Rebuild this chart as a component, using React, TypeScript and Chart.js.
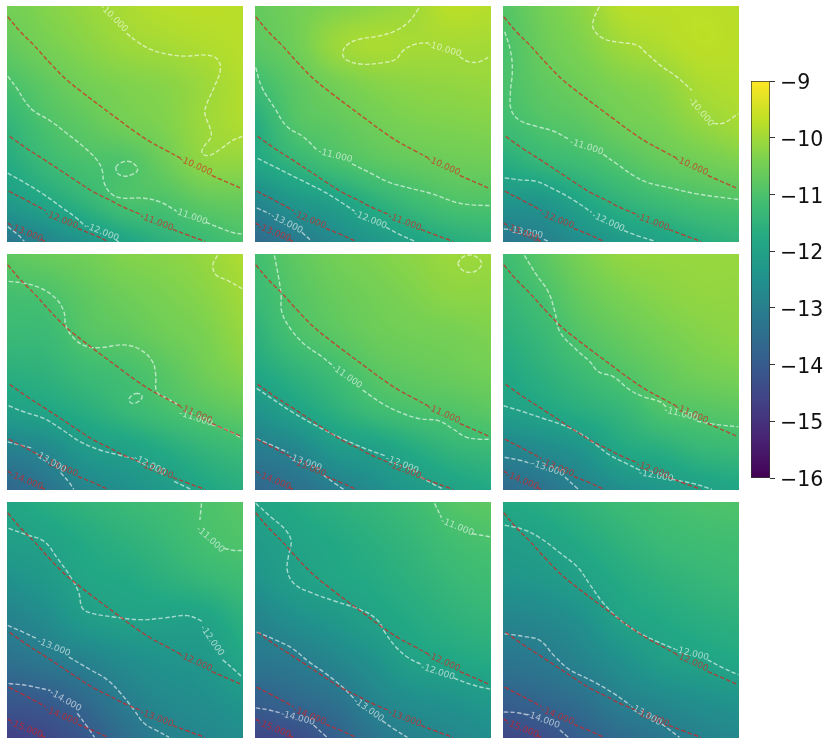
import React, { useEffect, useRef } from "react";
import { Chart, registerables } from "chart.js";

Chart.register(...registerables);

type Seg = number[][];
type Lab = [number, number, number, string];

const VIRIDIS = ["#440154", "#482475", "#414487", "#355f8d", "#2a788e", "#21918c", "#22a884", "#44bf70", "#7ad151", "#bddf26", "#fde725"];
const V_MIN = -16;
const V_MAX = -9;
const CB_TICKS = ["\u22129", "\u221210", "\u221211", "\u221212", "\u221213", "\u221214", "\u221215", "\u221216"];

// domain of each panel and the sample positions of the field
const X_RANGE = [20, 726];
const Y_RANGE = [18, 724];
const GRID_X = [20, 138, 255, 373, 491, 608, 726];
const GRID_Y = [18, 136, 253, 371, 489, 606, 724];

const HEAT_1 = [
  -10.5, -10.3, -10.1, -9.9, -9.75, -9.72, -9.75,
  -10.7, -10.45, -10.25, -10.05, -9.95, -9.85, -9.75,
  -11.05, -10.75, -10.5, -10.35, -10.25, -10.05, -9.8,
  -11.45, -11.0, -10.75, -10.5, -10.35, -10.05, -9.85,
  -11.75, -11.3, -11.05, -10.98, -10.6, -10.2, -10.15,
  -12.25, -11.85, -11.45, -11.05, -11.0, -10.75, -10.65,
  -13.25, -12.85, -12.4, -11.95, -11.55, -11.3, -11.05,
];
const HEAT_2 = [
  -10.7, -10.5, -10.35, -10.2, -10.02, -9.72, -9.78,
  -10.8, -10.55, -10.08, -9.9, -9.95, -9.95, -9.95,
  -11.2, -10.8, -10.5, -10.3, -10.2, -10.15, -10.1,
  -11.7, -10.95, -10.75, -10.55, -10.4, -10.35, -10.3,
  -11.9, -11.45, -11.1, -10.85, -10.7, -10.6, -10.55,
  -12.85, -12.35, -12.05, -11.6, -11.25, -11.0, -10.95,
  -13.6, -13.2, -12.75, -12.35, -11.98, -11.7, -11.5,
];
const HEAT_3 = [
  -10.9, -10.5, -10.2, -9.75, -9.72, -9.72, -9.75,
  -11.05, -10.6, -10.35, -10.02, -9.85, -9.72, -9.75,
  -11.05, -10.75, -10.55, -10.35, -10.2, -9.9, -9.8,
  -11.2, -10.95, -10.8, -10.55, -10.4, -10.15, -9.95,
  -11.7, -11.4, -11.2, -10.95, -10.7, -10.55, -10.4,
  -12.4, -12.35, -11.9, -11.5, -11.25, -11.05, -10.95,
  -13.25, -13.0, -12.6, -12.25, -12.0, -11.7, -11.5,
];
const HEAT_4 = [
  -10.75, -10.6, -10.5, -10.3, -10.25, -10.1, -9.85,
  -11.1, -11.0, -10.75, -10.55, -10.4, -10.25, -9.98,
  -11.3, -11.25, -10.9, -10.75, -10.55, -10.4, -10.1,
  -11.6, -11.5, -11.25, -11.1, -10.85, -10.55, -10.3,
  -12.1, -11.9, -11.65, -11.35, -11.1, -10.9, -10.7,
  -13.0, -12.75, -12.25, -12.05, -11.75, -11.45, -11.25,
  -13.7, -13.35, -12.85, -12.55, -12.25, -11.9, -11.65,
];
const HEAT_5 = [
  -11.15, -10.75, -10.5, -10.35, -10.2, -10.05, -10.05,
  -11.3, -10.9, -10.65, -10.5, -10.35, -10.2, -10.2,
  -11.55, -11.05, -10.8, -10.6, -10.5, -10.45, -10.35,
  -11.85, -11.5, -11.2, -10.85, -10.7, -10.6, -10.5,
  -12.45, -12.0, -11.6, -11.25, -11.05, -10.95, -10.8,
  -13.1, -12.85, -12.3, -12.1, -11.75, -11.45, -11.3,
  -13.7, -13.45, -13.1, -12.65, -12.3, -12.05, -11.8,
];
const HEAT_6 = [
  -11.2, -10.8, -10.4, -10.15, -10.1, -10.1, -10.1,
  -11.4, -11.05, -10.65, -10.4, -10.25, -10.15, -10.15,
  -11.6, -11.3, -10.9, -10.65, -10.45, -10.3, -10.2,
  -11.85, -11.55, -11.25, -10.95, -10.7, -10.5, -10.4,
  -12.1, -11.9, -11.65, -11.4, -11.0, -10.9, -10.8,
  -12.9, -12.7, -12.4, -11.85, -11.65, -11.4, -11.3,
  -13.6, -13.35, -12.95, -12.6, -12.35, -12.1, -11.9,
];
const HEAT_7 = [
  -11.9, -11.65, -11.45, -11.3, -11.15, -11.0, -10.85,
  -12.1, -12.0, -11.75, -11.55, -11.35, -11.1, -10.95,
  -12.5, -12.25, -11.9, -11.8, -11.6, -11.4, -11.2,
  -12.95, -12.65, -12.2, -12.03, -12.03, -11.98, -11.55,
  -13.4, -13.15, -12.9, -12.6, -12.4, -12.3, -11.85,
  -14.05, -13.95, -13.55, -13.05, -12.7, -12.55, -12.3,
  -14.7, -14.5, -14.1, -13.5, -13.0, -12.8, -12.6,
];
const HEAT_8 = [
  -11.98, -11.75, -11.55, -11.4, -11.2, -10.9, -10.75,
  -12.2, -11.97, -11.8, -11.6, -11.4, -11.15, -11.02,
  -12.45, -12.1, -11.9, -11.75, -11.55, -11.35, -11.2,
  -12.9, -12.55, -12.3, -12.0, -11.75, -11.55, -11.4,
  -13.2, -13.1, -12.8, -12.45, -12.0, -11.85, -11.7,
  -13.85, -13.6, -13.35, -12.85, -12.55, -12.4, -12.2,
  -14.55, -14.4, -13.9, -13.3, -12.95, -12.8, -12.6,
];
const HEAT_9 = [
  -11.8, -11.65, -11.45, -11.25, -11.1, -11.0, -10.95,
  -12.15, -12.0, -11.75, -11.5, -11.3, -11.2, -11.15,
  -12.4, -12.3, -12.05, -11.75, -11.55, -11.4, -11.3,
  -12.85, -12.75, -12.5, -12.0, -11.8, -11.65, -11.55,
  -13.25, -13.15, -12.85, -12.5, -12.1, -11.95, -11.8,
  -13.85, -13.65, -13.4, -12.95, -12.7, -12.5, -12.35,
  -14.55, -14.35, -13.9, -13.55, -13.25, -12.95, -12.75,
];

// reference contours, identical in all panels
const RED_1: Seg = [[22, 50, 60, 95, 100, 135, 150, 190, 200, 240, 250, 280, 300, 318, 350, 355, 400, 392, 450, 425, 500, 452, 540, 474], [632, 525, 660, 537, 724, 565]];
const RED_2: Seg = [[28, 408, 80, 445, 130, 477, 180, 510, 230, 543, 280, 575, 330, 600, 380, 625, 425, 643], [516, 686, 560, 703, 612, 722]];
const RED_3: Seg = [[25, 572, 70, 595, 135, 630], [232, 683, 280, 703, 322, 722]];
const RED_4: Seg = [[22, 668, 32, 673], [122, 716, 133, 722]];
const RED_LINES = [RED_1, RED_2, RED_3, RED_4];
const RED_LABEL_POS = [[585, 497, 24], [468, 665, 21], [183, 658, 22], [78, 697, 22]];
const RED_LEVELS = [
  ["-10.000", "-11.000", "-12.000", "-13.000"],
  ["-11.000", "-12.000", "-13.000", "-14.000"],
  ["-12.000", "-13.000", "-14.000", "-15.000"],
];

const WHITE_1: Seg[] = [
  [[378, 100, 410, 125, 450, 148, 500, 162, 550, 168, 620, 165, 650, 178, 658, 210, 640, 260, 618, 310, 612, 340, 628, 385, 630, 410, 605, 445, 605, 460, 625, 465, 660, 445, 695, 420, 724, 408]],
  [[345, 500, 360, 487, 385, 483, 405, 495, 410, 510, 395, 522, 370, 527, 350, 518, 345, 500]],
  [[22, 228, 50, 265, 75, 305, 100, 332, 150, 362, 200, 400, 250, 440, 290, 480, 305, 510, 310, 545, 330, 578, 360, 592, 430, 593, 480, 605, 525, 630], [615, 665, 660, 683, 700, 697, 724, 700]],
  [[22, 518, 70, 545, 130, 582, 190, 625, 225, 650, 255, 678], [345, 718, 355, 724]],
  [[22, 678, 50, 700, 72, 722]],
];
const WHITE_LABELS_1: Lab[] = [[340, 55, 45, "-10.000"], [570, 648, 20, "-11.000"], [305, 695, 22, "-12.000"]];

const WHITE_2: Seg[] = [
  [[510, 25, 480, 65, 440, 92, 390, 108, 330, 118, 295, 135, 282, 160, 295, 180, 340, 192, 400, 188, 440, 178, 465, 150, 500, 132, 540, 128], [632, 170, 660, 185, 690, 185, 724, 168]],
  [[22, 202, 40, 260, 80, 325, 115, 378, 165, 410, 205, 448], [310, 490, 370, 520, 420, 545, 480, 562, 550, 580, 620, 605, 670, 613, 724, 615]],
  [[28, 474, 80, 500, 150, 535, 220, 570, 270, 600, 318, 632], [412, 680, 460, 705, 498, 722]],
  [[25, 622, 65, 640], [160, 695, 190, 722]],
];
const WHITE_LABELS_2: Lab[] = [[587, 148, 17, "-10.000"], [260, 466, 14, "-11.000"], [365, 658, 22, "-12.000"], [115, 668, 27, "-13.000"]];

const WHITE_3: Seg[] = [
  [[308, 20, 292, 55, 290, 85, 320, 115, 370, 127, 420, 135, 450, 160, 490, 195, 540, 230, 585, 270], [650, 370, 680, 368, 724, 340]],
  [[25, 95, 42, 150, 48, 210, 42, 280, 45, 330, 70, 360, 120, 378, 170, 392, 220, 418], [320, 462, 360, 490, 410, 525, 450, 545, 520, 562, 600, 580, 724, 597]],
  [[25, 532, 70, 538, 120, 543, 170, 565, 230, 598, 285, 635], [382, 690, 430, 708, 476, 722]],
  [[22, 685, 35, 686], [142, 716, 155, 722]],
];
const WHITE_LABELS_3: Lab[] = [[612, 335, 50, "-10.000"], [270, 440, 18, "-11.000"], [335, 665, 25, "-12.000"], [88, 696, 10, "-13.000"]];

const WHITE_4: Seg[] = [
  [[650, 22, 636, 50, 645, 80, 680, 97, 724, 122]],
  [[25, 100, 70, 105, 120, 120, 165, 150, 190, 190, 197, 235, 225, 275, 260, 295, 300, 298, 370, 290, 420, 305, 455, 340, 465, 380, 468, 430, 500, 450, 530, 468], [632, 528, 680, 545, 724, 570]],
  [[405, 435, 420, 437, 424, 447, 412, 460, 395, 465, 385, 455, 392, 442, 405, 435]],
  [[25, 472, 70, 490, 130, 510, 180, 540, 240, 580, 300, 605, 350, 618, 400, 630], [520, 698, 570, 722]],
  [[22, 580, 60, 590, 100, 600], [180, 672, 205, 700, 220, 722]],
];
const WHITE_LABELS_4: Lab[] = [[585, 510, 18, "-11.000"], [447, 650, 27, "-12.000"], [150, 640, 30, "-13.000"]];

const WHITE_5: Seg[] = [
  [[626, 47, 640, 28, 662, 21, 685, 28, 698, 47, 685, 66, 662, 73, 640, 66, 626, 47]],
  [[78, 22, 90, 85, 98, 140, 100, 190, 125, 240, 170, 290, 220, 325, 250, 350], [342, 425, 400, 465, 450, 490, 510, 510, 570, 517, 610, 540, 650, 565, 690, 572, 724, 572]],
  [[25, 420, 70, 450, 130, 490, 200, 530, 280, 570, 350, 600, 410, 622], [515, 685, 560, 710, 585, 722]],
  [[25, 570, 70, 590, 120, 612], [225, 680, 260, 705, 285, 722]],
];
const WHITE_LABELS_5: Lab[] = [[295, 385, 35, "-11.000"], [460, 648, 22, "-12.000"], [170, 642, 20, "-13.000"]];

const WHITE_6: Seg[] = [
  [[84, 22, 120, 80, 155, 130, 175, 190, 190, 250, 240, 305, 280, 340, 305, 370, 350, 385, 400, 425, 440, 445, 490, 460, 508, 475], [600, 518, 650, 527, 724, 535]],
  [[22, 472, 80, 490, 140, 510, 200, 530, 260, 560, 300, 590, 340, 620, 390, 645, 430, 665], [525, 692, 590, 705, 645, 722]],
  [[25, 626, 70, 635, 105, 645], [205, 685, 245, 722]],
];
const WHITE_LABELS_6: Lab[] = [[553, 497, 14, "-11.000"], [478, 682, 10, "-12.000"], [155, 660, 18, "-13.000"]];

const WHITE_7: Seg[] = [
  [[602, 22, 597, 72], [670, 157, 700, 163, 724, 163]],
  [[25, 97, 75, 115, 130, 135, 170, 185, 215, 250, 235, 290, 245, 335, 270, 350, 340, 362, 420, 370, 490, 365, 560, 358, 605, 375], [665, 490, 700, 520, 724, 542]],
  [[22, 387, 70, 408, 112, 428], [205, 482, 270, 520, 320, 550, 360, 590, 400, 640, 430, 680, 470, 703, 505, 722]],
  [[25, 561, 80, 567, 150, 582], [230, 650, 260, 690, 282, 722]],
];
const WHITE_LABELS_7: Lab[] = [[628, 130, 42, "-11.000"], [633, 433, 55, "-12.000"], [160, 453, 22, "-13.000"], [195, 612, 30, "-14.000"]];

const WHITE_8: Seg[] = [
  [[557, 22, 578, 65], [670, 113, 724, 122]],
  [[22, 22, 70, 65, 110, 100, 128, 135, 120, 180, 117, 225, 140, 265, 190, 290, 260, 315, 340, 342, 385, 370, 410, 410, 440, 450, 480, 485, 520, 505], [615, 545, 670, 565, 724, 578]],
  [[25, 407, 80, 430, 130, 455, 180, 495, 230, 530, 280, 570, 318, 607], [400, 672, 440, 700, 476, 722]],
  [[22, 634, 60, 640, 100, 650], [195, 685, 235, 722]],
];
const WHITE_LABELS_8: Lab[] = [[625, 93, 22, "-11.000"], [567, 527, 18, "-12.000"], [360, 640, 35, "-13.000"], [148, 665, 15, "-14.000"]];

const WHITE_9: Seg[] = [
  [[25, 87, 80, 100, 130, 125, 190, 170, 245, 215, 280, 265, 320, 320, 370, 370, 420, 405, 480, 435, 535, 458], [632, 490, 680, 515, 724, 535]],
  [[25, 412, 80, 420, 130, 432, 175, 480, 220, 520, 290, 555, 350, 590, 400, 625], [495, 682, 548, 722]],
  [[22, 646, 60, 648, 95, 655], [190, 700, 215, 722]],
];
const WHITE_LABELS_9: Lab[] = [[585, 472, 14, "-12.000"], [447, 655, 30, "-13.000"], [140, 670, 20, "-14.000"]];

const HEATS = [HEAT_1, HEAT_2, HEAT_3, HEAT_4, HEAT_5, HEAT_6, HEAT_7, HEAT_8, HEAT_9];
const WHITES = [WHITE_1, WHITE_2, WHITE_3, WHITE_4, WHITE_5, WHITE_6, WHITE_7, WHITE_8, WHITE_9];
const WHITE_LABELS = [WHITE_LABELS_1, WHITE_LABELS_2, WHITE_LABELS_3, WHITE_LABELS_4, WHITE_LABELS_5, WHITE_LABELS_6, WHITE_LABELS_7, WHITE_LABELS_8, WHITE_LABELS_9];

const RED = "rgba(220,30,30,0.7)";
const WHITE = "rgba(255,255,255,0.6)";
const FONT = "9px 'DejaVu Sans'";
const PANEL_LEFT = [7, 255, 503];
const PANEL_TOP = [6, 254, 502];
const PANEL_SIZE = 236;

function hexRgb(h: string) {
  return [parseInt(h.slice(1, 3), 16), parseInt(h.slice(3, 5), 16), parseInt(h.slice(5, 7), 16)];
}
const VIRIDIS_RGB = VIRIDIS.map(hexRgb);

function colorOf(v: number) {
  const t = Math.max(0, Math.min(1, (v - V_MIN) / (V_MAX - V_MIN))) * (VIRIDIS_RGB.length - 1);
  const i = Math.min(VIRIDIS_RGB.length - 2, Math.floor(t));
  const f = t - i;
  const a = VIRIDIS_RGB[i];
  const b = VIRIDIS_RGB[i + 1];
  return [a[0] + (b[0] - a[0]) * f, a[1] + (b[1] - a[1]) * f, a[2] + (b[2] - a[2]) * f];
}

function cubic(p0: number, p1: number, p2: number, p3: number, t: number) {
  return p1 + 0.5 * t * (p2 - p0 + t * (2 * p0 - 5 * p1 + 4 * p2 - p3 + t * (3 * (p1 - p2) + p3 - p0)));
}

function locate(axis: number[], v: number) {
  let i = 0;
  while (i < axis.length - 2 && v > axis[i + 1]) i++;
  return [i, (v - axis[i]) / (axis[i + 1] - axis[i])];
}

function fieldAt(vals: number[], nx: number, ny: number, gx: number[], gy: number[], x: number, y: number) {
  const [ix, fx] = locate(gx, x);
  const [iy, fy] = locate(gy, y);
  const at = (c: number, r: number) => {
    const cc = Math.max(0, Math.min(nx - 1, c));
    const rr = Math.max(0, Math.min(ny - 1, r));
    let v = vals[rr * nx + cc];
    if (c < 0) v += v - vals[rr * nx + 1];
    if (c >= nx) v += v - vals[rr * nx + nx - 2];
    if (r < 0) v += v - vals[nx + cc];
    if (r >= ny) v += v - vals[(ny - 2) * nx + cc];
    return v;
  };
  const rows: number[] = [];
  for (let r = iy - 1; r <= iy + 2; r++) {
    rows.push(cubic(at(ix - 1, r), at(ix, r), at(ix + 1, r), at(ix + 2, r), fx));
  }
  return cubic(rows[0], rows[1], rows[2], rows[3], fy);
}

const heatPlugin = {
  id: "heatField",
  beforeDatasetsDraw(chart: any) {
    const ds = chart.data.datasets.find((d: any) => d.label === "field");
    if (!ds) return;
    const { left, top, width, height } = chart.chartArea;
    const w = Math.round(width);
    const h = Math.round(height);
    const img = chart.ctx.createImageData(w, h);
    const vals = ds.data.map((p: any) => p.v);
    const sx = chart.scales.x;
    const sy = chart.scales.y;
    for (let j = 0; j < h; j++) {
      const yv = sy.getValueForPixel(top + j + 0.5);
      for (let i = 0; i < w; i++) {
        const xv = sx.getValueForPixel(left + i + 0.5);
        const c = colorOf(fieldAt(vals, GRID_X.length, GRID_Y.length, GRID_X, GRID_Y, xv, yv));
        const k = (j * w + i) * 4;
        img.data[k] = c[0];
        img.data[k + 1] = c[1];
        img.data[k + 2] = c[2];
        img.data[k + 3] = 255;
      }
    }
    chart.ctx.putImageData(img, left, top);
  },
};

const labelPlugin = {
  id: "contourLabels",
  afterDatasetsDraw(chart: any, _a: any, opts: any) {
    const ctx = chart.ctx;
    const a = chart.chartArea;
    ctx.save();
    ctx.beginPath();
    ctx.rect(a.left, a.top, a.width, a.height);
    ctx.clip();
    ctx.font = FONT;
    ctx.textAlign = "center";
    ctx.textBaseline = "middle";
    for (const it of opts.items || []) {
      ctx.save();
      ctx.translate(chart.scales.x.getPixelForValue(it.x), chart.scales.y.getPixelForValue(it.y));
      ctx.rotate((it.rot * Math.PI) / 180);
      ctx.fillStyle = it.color;
      ctx.fillText(it.text, 0, 0);
      ctx.restore();
    }
    ctx.restore();
  },
};

function toPoints(seg: Seg) {
  const out: any[] = [];
  seg.forEach((s, k) => {
    if (k > 0) out.push({ x: s[0], y: null });
    for (let i = 0; i < s.length; i += 2) out.push({ x: s[i], y: s[i + 1] });
  });
  return out;
}

function lineSet(seg: Seg, color: string) {
  return {
    label: "contour",
    data: toPoints(seg),
    showLine: true,
    pointRadius: 0,
    borderColor: color,
    borderWidth: 1.4,
    borderDash: [4.5, 2.2],
    tension: 0.4,
    fill: false,
  };
}

function Panel({ index }: { index: number }) {
  const ref = useRef<HTMLCanvasElement>(null);
  useEffect(() => {
    const heat = HEATS[index];
    const row = Math.floor(index / 3);
    const field: any[] = [];
    GRID_Y.forEach((y, r) => GRID_X.forEach((x, c) => field.push({ x, y, v: heat[r * GRID_X.length + c] })));
    const items = [
      ...WHITE_LABELS[index].map(([x, y, rot, text]) => ({ x, y, rot, text, color: WHITE })),
      ...RED_LABEL_POS.map(([x, y, rot], i) => ({ x, y, rot, text: RED_LEVELS[row][i], color: RED })),
    ];
    const chart = new Chart(ref.current as HTMLCanvasElement, {
      type: "scatter",
      data: {
        datasets: [
          { label: "field", data: field, pointRadius: 0, showLine: false },
          ...RED_LINES.map((s) => lineSet(s, RED)),
          ...WHITES[index].map((s) => lineSet(s, WHITE)),
        ],
      },
      options: {
        animation: false,
        responsive: false,
        devicePixelRatio: 1,
        layout: { padding: 0 },
        plugins: { legend: { display: false }, tooltip: { enabled: false }, contourLabels: { items } },
        scales: {
          x: { type: "linear", min: X_RANGE[0], max: X_RANGE[1], display: false },
          y: { type: "linear", min: Y_RANGE[0], max: Y_RANGE[1], reverse: true, display: false },
        },
      } as any,
      plugins: [heatPlugin, labelPlugin],
    } as any);
    return () => chart.destroy();
  }, [index]);
  return (
    <canvas
      ref={ref}
      width={PANEL_SIZE}
      height={PANEL_SIZE}
      style={{
        position: "absolute",
        left: PANEL_LEFT[index % 3],
        top: PANEL_TOP[Math.floor(index / 3)],
        width: PANEL_SIZE,
        height: PANEL_SIZE,
        filter: "blur(0.4px)",
      }}
    />
  );
}

function ColorBar() {
  const ref = useRef<HTMLCanvasElement>(null);
  useEffect(() => {
    const chart = new Chart(ref.current as HTMLCanvasElement, {
      type: "bar",
      data: {
        labels: ["colorbar"],
        datasets: [
          {
            data: [[V_MIN, V_MAX]],
            barPercentage: 1,
            categoryPercentage: 1,
            borderWidth: 1,
            borderSkipped: false,
            borderColor: "#333333",
            backgroundColor: (c: any) => {
              const s = c.chart.scales.y;
              if (!s || !c.chart.chartArea) return VIRIDIS[5];
              const g = c.chart.ctx.createLinearGradient(0, s.getPixelForValue(V_MIN), 0, s.getPixelForValue(V_MAX));
              VIRIDIS.forEach((h, i) => g.addColorStop(i / (VIRIDIS.length - 1), h));
              return g;
            },
          },
        ],
      },
      options: {
        animation: false,
        responsive: false,
        devicePixelRatio: 1,
        layout: { padding: { left: 1, right: 0, top: 21, bottom: 22 } },
        plugins: { legend: { display: false }, tooltip: { enabled: false } },
        scales: {
          x: { display: false },
          y: {
            position: "right",
            min: V_MIN,
            max: V_MAX,
            afterFit: (s: any) => {
              s.width = 60;
            },
            grid: { drawOnChartArea: false, drawTicks: true, tickLength: 5, color: "#333333" },
            border: { display: false },
            ticks: {
              stepSize: 1,
              padding: 5,
              color: "#111111",
              font: { family: "'DejaVu Sans'", size: 20.5, lineHeight: 0.28 },
              callback: (v: any) => ["", CB_TICKS[V_MAX - Number(v)]],
            },
          },
        },
      } as any,
    } as any);
    return () => chart.destroy();
  }, []);
  return (
    <canvas
      ref={ref}
      width={80}
      height={440}
      style={{ position: "absolute", left: 750, top: 60, width: 80, height: 440, filter: "blur(0.3px)" }}
    />
  );
}

export default function App() {
  return (
    <div style={{ position: "absolute", left: 0, top: 0, width: 830, height: 744, overflow: "hidden" }}>
      {HEATS.map((_, i) => (
        <Panel key={i} index={i} />
      ))}
      <ColorBar />
    </div>
  );
}
